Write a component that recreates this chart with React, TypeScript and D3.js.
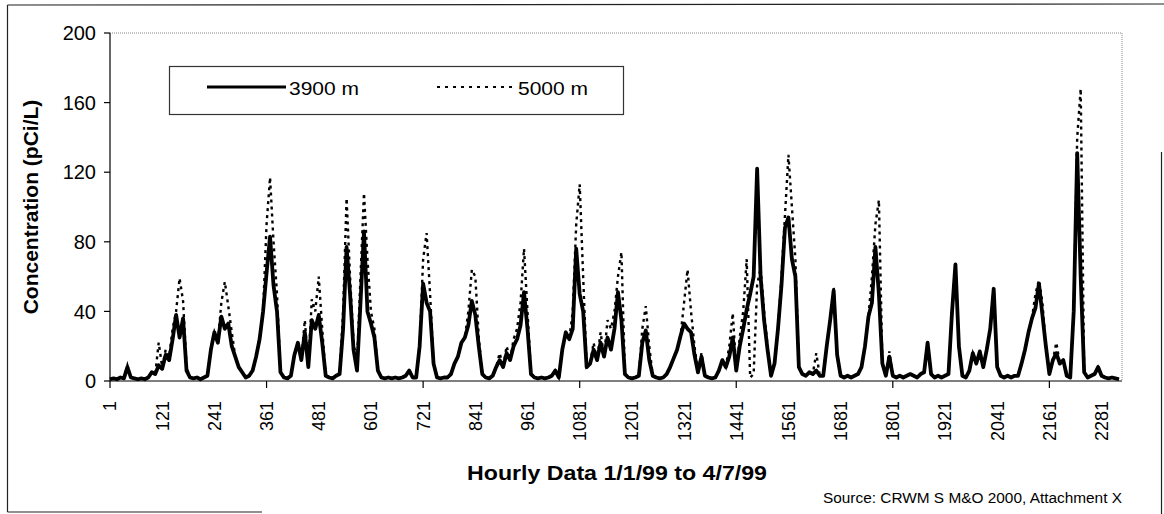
import React from 'react';
import * as d3 from 'd3';

// readings every 8 hours, 1/1/99 to 4/7/99 (pCi/L)
const STEP_HOURS = 8;
const LAST_HOUR = 2328;

const X_LABELS = [1, 121, 241, 361, 481, 601, 721, 841, 961, 1081, 1201, 1321, 1441, 1561, 1681, 1801, 1921, 2041, 2161, 2281];
const X_TICKS = [1, 361, 721, 1081, 1441, 1801, 2161];
const Y_TICKS = [0, 40, 80, 120, 160, 200];

const CONC_3900 = [
  1, 1.5, 1, 2, 1.5, 8, 2, 1.5, 1, 1.5,
  1, 2, 5, 4, 9, 7, 15, 12, 24, 38,
  25, 36, 6, 2, 1.5, 2, 1, 2, 3, 18,
  28, 22, 37, 30, 33, 20, 14, 8, 5, 2,
  3, 6, 14, 24, 40, 62, 83, 55, 40, 5,
  2, 1.5, 3, 15, 22, 12, 28, 8, 35, 30,
  38, 22, 3, 2, 1.5, 3, 4, 30, 77, 50,
  18, 6, 45, 86, 40, 33, 25, 6, 2, 1.5,
  2, 1.5, 2, 1.5, 2, 3, 6, 2, 2, 20,
  56, 45, 40, 10, 2, 1.5, 2, 2, 4, 10,
  14, 22, 25, 32, 46, 38, 20, 4, 2, 1.5,
  3, 8, 12, 8, 16, 12, 20, 24, 32, 51,
  30, 4, 2, 1.5, 2, 1.5, 2, 3, 6, 2,
  18, 28, 24, 30, 76, 50, 40, 8, 10, 18,
  12, 22, 14, 25, 18, 30, 51, 35, 4, 2,
  1.5, 2, 3, 22, 29, 12, 3, 2, 1.5, 2,
  4, 8, 13, 18, 26, 33, 30, 28, 15, 5,
  14, 3, 2, 1.5, 2, 6, 12, 8, 14, 25,
  6, 20, 30, 41, 50, 60, 122, 60, 35, 18,
  3, 10, 30, 55, 88, 94, 70, 60, 8, 4,
  3, 5, 4, 6, 3, 3, 20, 35, 52, 15,
  3, 2, 3, 2, 3, 4, 8, 20, 37, 45,
  77, 50, 10, 3, 14, 3, 2, 3, 2, 3,
  4, 3, 2, 4, 5, 22, 4, 2, 3, 2,
  3, 4, 39, 67, 20, 3, 2, 6, 16, 10,
  17, 8, 18, 30, 53, 8, 3, 2, 3, 2,
  3, 3, 10, 18, 28, 36, 42, 56, 38, 20,
  4, 12, 16, 10, 12, 3, 2, 40, 131, 60,
  5, 2, 3, 4, 8, 3, 2, 1.5, 2, 1.5,
  1,
];

const CONC_5000 = [
  1, 1.5, 1, 2, 1.5, 9, 2, 1.5, 1, 1.5,
  1, 2, 5, 4, 22, 8, 18, 14, 30, 40,
  59, 46, 8, 2, 1.5, 2, 1, 2, 3, 18,
  28, 22, 45, 57, 43, 28, 14, 8, 5, 2,
  3, 6, 14, 24, 40, 90, 117, 80, 50, 5,
  2, 1.5, 3, 15, 22, 12, 35, 8, 47, 40,
  60, 30, 3, 2, 1.5, 3, 4, 40, 105, 60,
  22, 10, 60, 108, 70, 40, 30, 6, 2, 1.5,
  2, 1.5, 2, 1.5, 2, 3, 6, 2, 2, 20,
  70, 85, 50, 10, 2, 1.5, 2, 2, 4, 10,
  14, 22, 25, 40, 64, 60, 25, 4, 2, 1.5,
  3, 8, 16, 8, 20, 12, 24, 30, 45, 76,
  40, 4, 2, 1.5, 2, 1.5, 2, 3, 6, 2,
  18, 28, 24, 40, 90, 113, 60, 8, 10, 22,
  12, 28, 14, 35, 30, 40, 60, 74, 4, 2,
  1.5, 2, 3, 30, 43, 20, 3, 2, 1.5, 2,
  4, 8, 13, 18, 26, 45, 64, 40, 20, 5,
  16, 3, 2, 1.5, 2, 6, 12, 8, 20, 39,
  6, 25, 40, 70, 2, 4, 55, 65, 40, 20,
  3, 10, 30, 60, 95, 130, 100, 70, 8, 4,
  3, 5, 4, 16, 3, 3, 20, 35, 54, 15,
  3, 2, 3, 2, 3, 4, 8, 20, 37, 60,
  90, 104, 10, 3, 17, 3, 2, 3, 2, 3,
  4, 3, 2, 4, 5, 22, 4, 2, 3, 2,
  3, 4, 39, 67, 20, 3, 2, 6, 16, 10,
  17, 8, 18, 30, 53, 8, 3, 2, 3, 2,
  3, 3, 10, 18, 28, 36, 50, 58, 45, 20,
  4, 12, 22, 10, 12, 3, 2, 40, 140, 168,
  5, 2, 3, 4, 8, 3, 2, 1.5, 2, 1.5,
  1,
];

const W = 1164;
const H = 514;
const PLOT = { left: 110, right: 1122, top: 33, bottom: 381 };
const FONT = '"Liberation Sans", Arial, Helvetica, sans-serif';

const App: React.FC = () => {
  const x = d3.scaleLinear().domain([1, LAST_HOUR]).range([PLOT.left, PLOT.right]);
  const y = d3.scaleLinear().domain([0, 200]).range([PLOT.bottom, PLOT.top]);

  const line = d3.line<number>()
    .x((_, i) => x(1 + i * STEP_HOURS))
    .y(d => y(d));

  return (
    <svg width={W} height={H} style={{ position: 'absolute', left: 0, top: 0, background: '#fff' }} fontFamily={FONT}>
      {/* scanned frame */}
      <g stroke="#222" strokeWidth={1.2} fill="none">
        <line x1={7.5} y1={5} x2={W} y2={4} />
        <line x1={7.5} y1={5} x2={7.5} y2={512} />
        <line x1={7.5} y1={512} x2={262} y2={512} />
        <line x1={1161.5} y1={152} x2={1161.5} y2={H} />
      </g>

      {/* plot area border */}
      <g stroke="#888" strokeWidth={1} strokeDasharray="1,1" fill="none">
        <line x1={PLOT.left} y1={PLOT.top} x2={PLOT.right} y2={PLOT.top} />
        <line x1={PLOT.right} y1={PLOT.top} x2={PLOT.right} y2={PLOT.bottom} />
      </g>

      {/* y axis */}
      <line x1={PLOT.left} y1={PLOT.top} x2={PLOT.left} y2={PLOT.bottom} stroke="#000" strokeWidth={1.2} />
      {Y_TICKS.map(t => (
        <g key={t}>
          <line x1={PLOT.left - 6} x2={PLOT.left} y1={y(t)} y2={y(t)} stroke="#000" strokeWidth={1.2} />
          <text x={96} y={y(t)} dy="0.36em" textAnchor="end" fontSize={20} fill="#000">{t}</text>
        </g>
      ))}
      <text transform={`translate(30,207) rotate(-90)`} textAnchor="middle" dy="0.36em"
        fontSize={21} fontWeight="bold" fill="#000">Concentration (pCi/L)</text>

      {/* x axis */}
      <line x1={PLOT.left} y1={PLOT.bottom} x2={PLOT.right} y2={PLOT.bottom} stroke="#000" strokeWidth={1.2} />
      {X_TICKS.map(t => (
        <line key={t} x1={x(t)} x2={x(t)} y1={PLOT.bottom} y2={PLOT.bottom + 7} stroke="#000" strokeWidth={1.2} />
      ))}
      {X_LABELS.map(t => (
        <text key={t} transform={`translate(${x(t)},401) rotate(-90)`} textAnchor="end" dy="0.36em"
          fontSize={18} fill="#000">{t}</text>
      ))}
      <text x={617} y={480} textAnchor="middle" fontSize={20} fontWeight="bold" fill="#000"
        textLength={300} lengthAdjust="spacingAndGlyphs">Hourly Data 1/1/99 to 4/7/99</text>

      {/* series */}
      <path d={line(CONC_3900) ?? ''} fill="none" stroke="#000" strokeWidth={3.8} strokeLinejoin="round" />
      <path d={line(CONC_5000) ?? ''} fill="none" stroke="#000" strokeWidth={2.4} strokeDasharray="3,4" />

      {/* legend */}
      <rect x={169.5} y={66.5} width={454} height={48} fill="#fff" stroke="#333" strokeWidth={1.2} />
      <line x1={207} x2={286} y1={87} y2={87} stroke="#000" strokeWidth={3.2} />
      <text x={289} y={95} fontSize={18} fill="#000" textLength={70} lengthAdjust="spacingAndGlyphs">3900 m</text>
      <line x1={437} x2={513} y1={87} y2={87} stroke="#000" strokeWidth={2.2} strokeDasharray="3,5" />
      <text x={518} y={95} fontSize={18} fill="#000" textLength={70} lengthAdjust="spacingAndGlyphs">5000 m</text>

      {/* source note */}
      <text x={823} y={503} fontSize={14} fill="#000" textLength={299} lengthAdjust="spacingAndGlyphs">Source: CRWM S M&amp;O 2000, Attachment X</text>
    </svg>
  );
};

export default App;
